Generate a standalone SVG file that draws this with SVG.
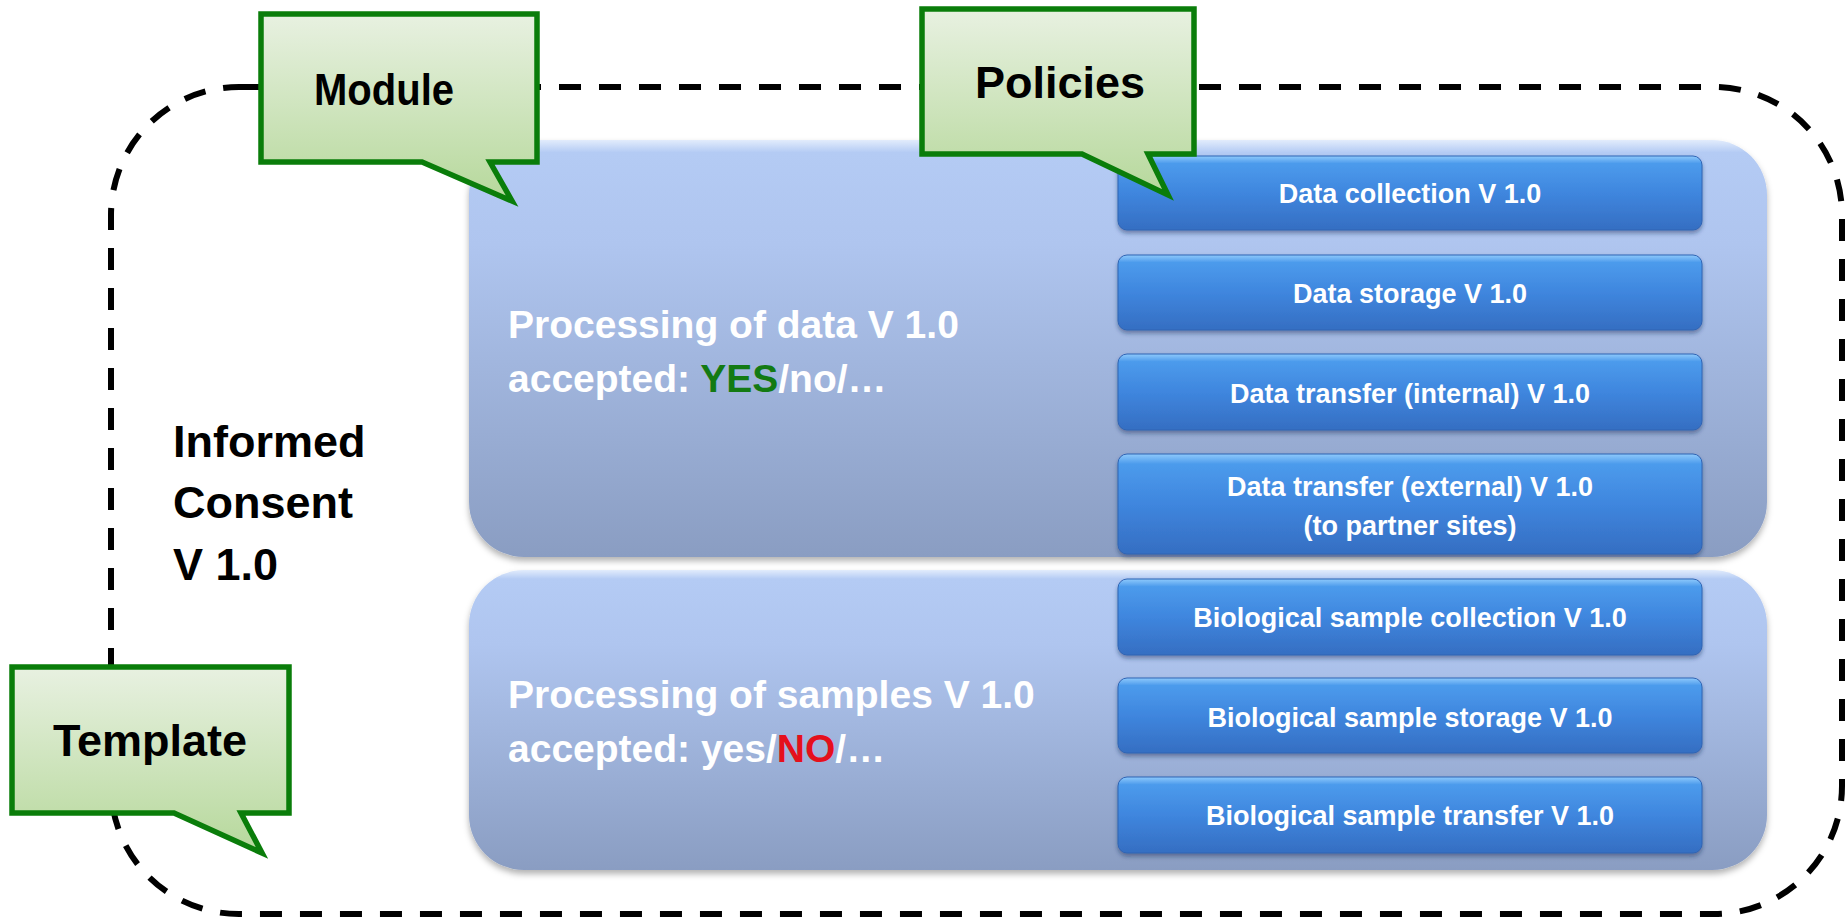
<svg xmlns="http://www.w3.org/2000/svg" width="1845" height="918" viewBox="0 0 1845 918">
<defs>
<linearGradient id="gCallout" x1="0" y1="0" x2="0" y2="1">
<stop offset="0" stop-color="#e8f1e1"/>
<stop offset="1" stop-color="#b6d89b"/>
</linearGradient>
<linearGradient id="gBox" x1="0" y1="0" x2="0" y2="1">
<stop offset="0" stop-color="#e2ecfc"/>
<stop offset="0.03" stop-color="#b4cbf4"/>
<stop offset="0.25" stop-color="#afc5ef"/>
<stop offset="1" stop-color="#8a9dc2"/>
</linearGradient>
<linearGradient id="gBtn" x1="0" y1="0" x2="0" y2="1">
<stop offset="0" stop-color="#8fcafc"/>
<stop offset="0.1" stop-color="#4c9bec"/>
<stop offset="0.5" stop-color="#3f86de"/>
<stop offset="1" stop-color="#356ec2"/>
</linearGradient>
<filter id="fShadow" x="-5%" y="-5%" width="110%" height="115%">
<feDropShadow dx="0" dy="4" stdDeviation="3" flood-color="#000" flood-opacity="0.3"/>
</filter>
<filter id="fBtnShadow" x="-5%" y="-10%" width="110%" height="130%">
<feDropShadow dx="0" dy="3" stdDeviation="2" flood-color="#1a2f5a" flood-opacity="0.45"/>
</filter>
</defs>
<style>
.border{fill:none;stroke:#000;stroke-width:6;stroke-dasharray:22 18}
.callout{fill:url(#gCallout);stroke:#0a7d0a;stroke-width:5.5;stroke-linejoin:miter}
.ctext{font-family:"Liberation Sans",Arial,sans-serif;font-weight:bold;font-size:45px;fill:#000;text-anchor:middle}
.box{fill:url(#gBox);filter:url(#fShadow)}
.btn{fill:url(#gBtn);stroke:#2f64b4;stroke-width:1;filter:url(#fBtnShadow)}
.btext{font-family:"Liberation Sans",Arial,sans-serif;font-weight:bold;font-size:27px;fill:#fff;text-anchor:middle}
.mtext{font-family:"Liberation Sans",Arial,sans-serif;font-weight:bold;font-size:39px;fill:#fff}
.ic{font-family:"Liberation Sans",Arial,sans-serif;font-weight:bold;font-size:45px;fill:#000}
.yes{fill:#137a13}
.no{fill:#e5101c}
</style>
<rect width="1845" height="918" fill="#fff"/>

<g id="template-border">
<rect class="border" x="111" y="87" width="1731" height="827" rx="128" ry="128"/>
</g>

<g id="informed-consent">
<text class="ic" x="173" y="457">Informed</text>
<text class="ic" x="173" y="518">Consent</text>
<text class="ic" x="173" y="580">V 1.0</text>
</g>

<g id="module-data">
<rect class="box" x="469" y="140" width="1298" height="417" rx="55" ry="55"/>
<text class="mtext" x="508" y="338">Processing of data V 1.0</text>
<text class="mtext" x="508" y="392">accepted: <tspan class="yes">YES</tspan>/no/…</text>
</g>

<g id="module-samples">
<rect class="box" x="469" y="570" width="1298" height="300" rx="55" ry="55"/>
<text class="mtext" x="508" y="708">Processing of samples V 1.0</text>
<text class="mtext" x="508" y="762">accepted: yes/<tspan class="no">NO</tspan>/…</text>
</g>

<g id="policy-data-collection">
<rect class="btn" x="1118" y="156" width="584" height="74" rx="9"/>
<text class="btext" x="1410" y="203">Data collection V 1.0</text>
</g>
<g id="policy-data-storage">
<rect class="btn" x="1118" y="255" width="584" height="75" rx="9"/>
<text class="btext" x="1410" y="303">Data storage V 1.0</text>
</g>
<g id="policy-data-transfer-internal">
<rect class="btn" x="1118" y="354" width="584" height="76" rx="9"/>
<text class="btext" x="1410" y="403">Data transfer (internal) V 1.0</text>
</g>
<g id="policy-data-transfer-external">
<rect class="btn" x="1118" y="454" width="584" height="100" rx="9"/>
<text class="btext" x="1410" y="496">Data transfer (external) V 1.0</text>
<text class="btext" x="1410" y="535">(to partner sites)</text>
</g>
<g id="policy-bio-collection">
<rect class="btn" x="1118" y="579" width="584" height="76" rx="9"/>
<text class="btext" x="1410" y="627">Biological sample collection V 1.0</text>
</g>
<g id="policy-bio-storage">
<rect class="btn" x="1118" y="678" width="584" height="75" rx="9"/>
<text class="btext" x="1410" y="727">Biological sample storage V 1.0</text>
</g>
<g id="policy-bio-transfer">
<rect class="btn" x="1118" y="777" width="584" height="76" rx="9"/>
<text class="btext" x="1410" y="825">Biological sample transfer V 1.0</text>
</g>

<g id="callout-module">
<path class="callout" d="M261,14 H537 V162 H490 L512,201 L422,162 H261 Z"/>
<text class="ctext" x="384" y="105" textLength="140" lengthAdjust="spacingAndGlyphs">Module</text>
</g>
<g id="callout-policies">
<path class="callout" d="M922,9 H1194 V154 H1148 L1168,195 L1082,154 H922 Z"/>
<text class="ctext" x="1060" y="98">Policies</text>
</g>
<g id="callout-template">
<path class="callout" d="M12,667 H289 V813 H241 L262,853 L174,813 H12 Z"/>
<text class="ctext" x="150" y="756">Template</text>
</g>
</svg>
